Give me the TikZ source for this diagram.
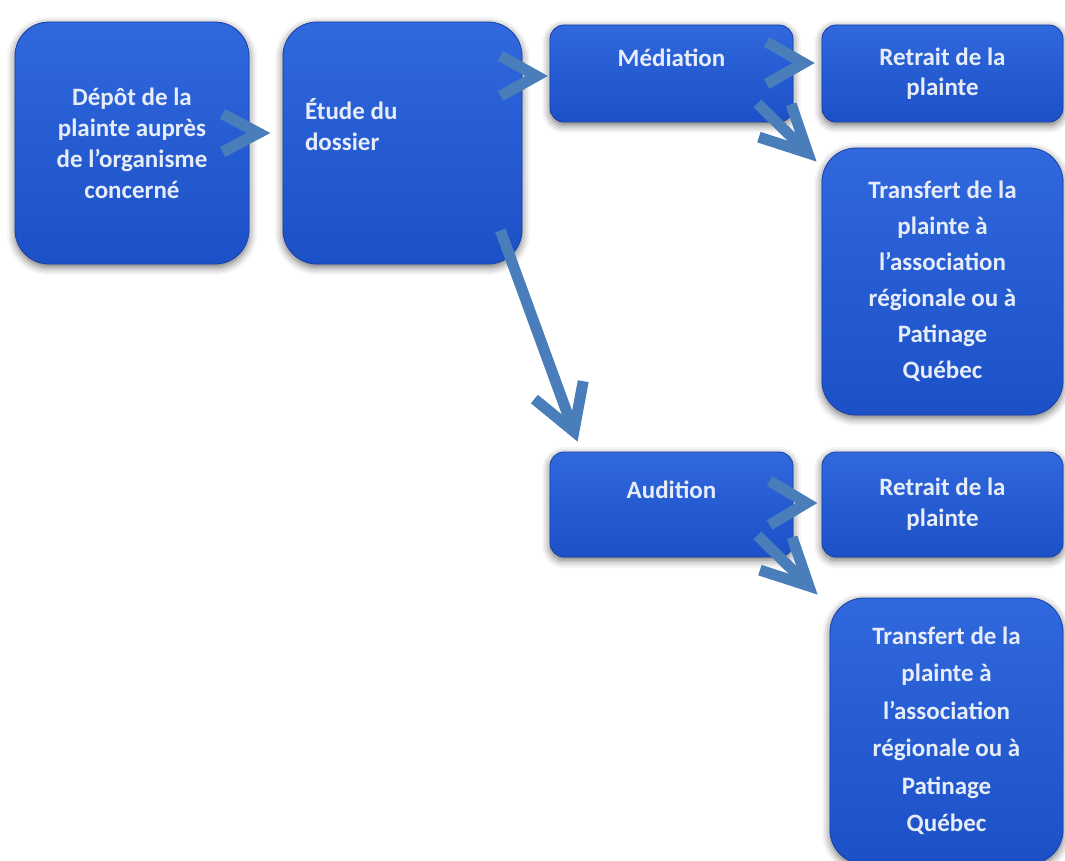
\documentclass[tikz,border=0pt]{standalone}
\usepackage{fontspec}
\setmainfont{Carlito}
\usetikzlibrary{arrows.meta,shadows.blur,calc}
\definecolor{boxtop}{RGB}{48,104,222}
\definecolor{boxbot}{RGB}{28,80,198}
\definecolor{boxedge}{RGB}{24,64,168}
\definecolor{arrowblue}{RGB}{74,126,187}
\definecolor{txt}{RGB}{230,236,248}
\newcommand{\boxtxt}[5]{\parbox[c][#2][#3]{#1}{\vspace*{#4}#5}}
\tikzset{
  bigbox/.style={rounded corners=34pt, top color=boxtop, bottom color=boxbot,
    draw=boxedge, line width=0.8pt, inner sep=0pt, text=txt,
    font=\bfseries\fontsize{25}{31}\selectfont,
    blur shadow={shadow blur radius=8pt, shadow xshift=0pt, shadow yshift=-3pt, shadow opacity=60}},
  smallbox/.style={bigbox, rounded corners=14pt},
  conn/.style={draw=arrowblue, line width=11pt, -{Straight Barb[length=46pt,width=46pt]}},
  bigconn/.style={conn, -{Straight Barb[length=44pt,width=52pt]}},
  chev/.style={draw=arrowblue, line width=11pt, line join=miter, line cap=butt}
}
\begin{document}
\begin{tikzpicture}[x=1pt,y=-1pt]
\useasboundingbox (0,0) rectangle (1065,861);
% boxes
\node[bigbox] (A) at (132,143) {\boxtxt{234pt}{242pt}{c}{0pt}{\centering D\'ep\^ot de la\\plainte aupr\`es\\de l’organisme\\concern\'e\par}};
\node[bigbox] (B) at (402.5,143) {\boxtxt{239pt}{242pt}{t}{77pt}{\leftskip=22pt \'Etude du\\dossier\par}};
\node[smallbox] (med) at (671.5,73.5) {\boxtxt{243pt}{97pt}{t}{24pt}{\centering M\'ediation\par}};
\node[smallbox] (ret1) at (942.5,73.5) {\boxtxt{241pt}{97pt}{c}{0pt}{\centering\baselineskip=30pt Retrait de la\\plainte\par}};
\node[bigbox] (tr1) at (942.5,281.5) {\boxtxt{241pt}{267pt}{c}{0pt}{\centering\baselineskip=36pt Transfert de la\\plainte \`a\\l’association\\r\'egionale ou \`a\\Patinage\\Qu\'ebec\par}};
\node[smallbox] (aud) at (671.5,504.5) {\boxtxt{243pt}{105pt}{t}{29pt}{\centering Audition\par}};
\node[smallbox] (ret2) at (942.5,504.5) {\boxtxt{241pt}{105pt}{c}{0pt}{\centering\baselineskip=31pt Retrait de la\\plainte\par}};
\node[bigbox] (tr2) at (946.5,731) {\boxtxt{233pt}{266pt}{c}{0pt}{\centering\baselineskip=37.5pt Transfert de la\\plainte \`a\\l’association\\r\'egionale ou \`a\\Patinage\\Qu\'ebec\par}};
% chevron connectors: vertex placed just before the target box
\coordinate (ab) at ([shift={(-24,-10)}]B.west);
\coordinate (bm) at ([shift={(-13,2.5)}]med.west);
\coordinate (mr) at ([shift={(-18,-10.5)}]ret1.west);
\coordinate (ar) at ([shift={(-15,-1.5)}]ret2.west);
\draw[chev] ([shift={(-36,-19)}]ab) -- (ab) -- ([shift={(-36,19)}]ab);
\draw[chev] ([shift={(-36,-20)}]bm) -- (bm) -- ([shift={(-36,20)}]bm);
\draw[chev] ([shift={(-37,-21)}]mr) -- (mr) -- ([shift={(-37,21)}]mr);
\draw[chev] ([shift={(-37,-22)}]ar) -- (ar) -- ([shift={(-37,22)}]ar);
% connectors with shaft
\draw[conn] ([shift={(-36,-19)}]med.south east) -- ([shift={(-5,14)}]tr1.north west);
\draw[bigconn] ([shift={(-22,-34)}]B.south east) -- ([shift={(28,-10)}]aud.north west);
\draw[conn] ([shift={(-36,-22)}]aud.south east) -- ([shift={(-12,-3)}]tr2.north west);
\end{tikzpicture}
\end{document}
